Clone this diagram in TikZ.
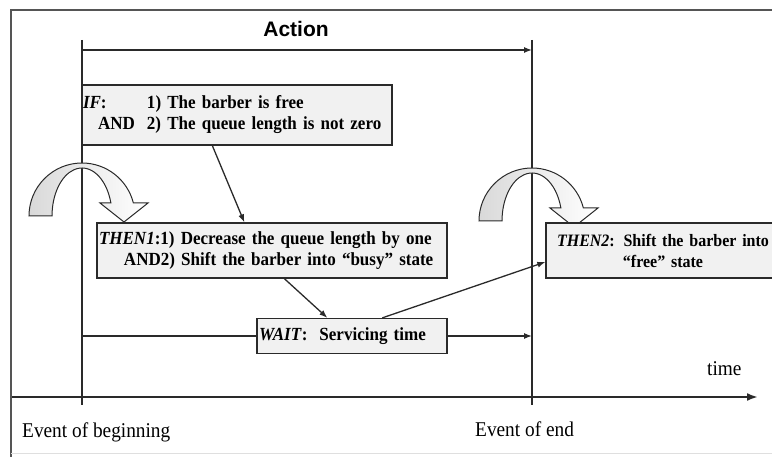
\documentclass[tikz,border=0pt]{standalone}
\usepackage{fontspec}
\setmainfont{Liberation Serif}
\newfontfamily\narrowserif{Liberation Serif}[FakeStretch=0.92]
\newfontfamily\headfont{Liberation Sans}
\usetikzlibrary{arrows.meta}
\definecolor{ink}{HTML}{2A2A2A}
\definecolor{boxfill}{HTML}{F1F1F1}
\tikzset{
  rule/.style={draw=ink, line width=1.3pt},
  conn/.style={draw=ink, line width=1.3pt, -{Latex[length=8pt,width=6pt]}},
  timeaxis/.style={draw=ink, line width=2.6pt, -{Latex[length=11pt,width=8pt]}},
  condbox/.style={draw=ink, line width=1.3pt, fill=boxfill, rectangle, inner sep=0pt,
    font=\narrowserif\bfseries\fontsize{18.5}{21}\selectfont},
  turnfill/.style={draw=ink, line width=1pt, left color=gray!30, right color=white},
  plainlabel/.style={font=\narrowserif\fontsize{21}{24}\selectfont, inner sep=0pt, anchor=base west}
}
% curved "turn" arrow drawn around an event line: #1 = x of the line, #2 = y of the tail base
\newcommand\turnarrow[2]{%
  \path[turnfill] (#1-53,#2) arc[start angle=180, end angle=345.8, radius=53]
    -- (#1+66,#2-13) -- (#1+42,#2+6) -- (#1+18,#2-13) -- (#1+28.9,#2-13)
    arc[start angle=344.3, end angle=180, x radius=30, y radius=48] -- cycle;}
\begin{document}
\begin{tikzpicture}[x=1pt, y=-1pt]
\useasboundingbox (0,0) rectangle (772,457);

% outer frame
\draw[draw=ink!80, line width=1.8pt] (11,457) -- (11,10) -- (780,10);
\draw[draw=gray!25, line width=0.8pt] (11,453) -- (772,453);

% event lines
\coordinate (begTop) at (82,40);
\coordinate (begBot) at (82,405);
\coordinate (endTop) at (532,40);
\coordinate (endBot) at (532,405);
\draw[rule] (begTop) -- (begBot);
\draw[rule] (endTop) -- (endBot);

% action span
\node[font=\headfont\bfseries\fontsize{21}{24}\selectfont] (action) at (296,29) {Action};
\coordinate (actL) at (82,50);
\coordinate (actR) at (532,50);
\draw[conn] (actL) -- (actR);

% curved transition arrows at the two events
\turnarrow{82}{216}
\turnarrow{532}{221}

% condition and action boxes
\node[condbox, minimum width=310pt, minimum height=60pt, text width=308pt, align=left]
  (ifbox) at (237,115)
  {\makebox[64pt][l]{\textit{IF}:}1) The barber is free\\
   \makebox[64pt][l]{\hspace{15pt}AND}2) The queue length is not zero};

\node[condbox, minimum width=350pt, minimum height=55pt, text width=346pt, align=left]
  (then1) at (272,250.5)
  {\textit{THEN1}:1) Decrease the queue length by one\\
   \hspace{25pt}AND2) Shift the barber into “busy” state};

\node[condbox, minimum width=234pt, minimum height=55pt, text width=230pt, align=center,
      font=\narrowserif\bfseries\fontsize{17.4}{21}\selectfont]
  (then2) at (663,250.5)
  {\textit{THEN2}: Shift the barber into\\ “free” state};

\node[condbox, minimum width=190pt, minimum height=35pt, text width=186pt, align=left]
  (wait) at (352,336)
  {\textit{WAIT}:\hspace{12pt}Servicing time};

% waiting interval
\coordinate (waitL) at (82,336);
\coordinate (waitR) at (532,336);
\draw[rule] (waitL) -- (wait.west);
\draw[conn] (wait.east) -- (waitR);

% logical flow between the boxes
\draw[conn] ([xshift=131pt]ifbox.south west) -- ([xshift=148pt]then1.north west);
\draw[conn] ([xshift=188pt]then1.south west) -- ([xshift=71pt]wait.north west);
\draw[conn] ([xshift=126pt]wait.north west) -- ([yshift=-11.5pt]then2.west);

% time axis
\coordinate (axisL) at (12,397);
\coordinate (axisR) at (758,397);
\draw[timeaxis] (axisL) -- (axisR);
\node[plainlabel] (timelbl) at (707,376) {time};
\node[plainlabel] (begLbl) at (22,438) {Event of beginning};
\node[plainlabel] (endLbl) at (475,436) {Event of end};
\end{tikzpicture}
\end{document}
